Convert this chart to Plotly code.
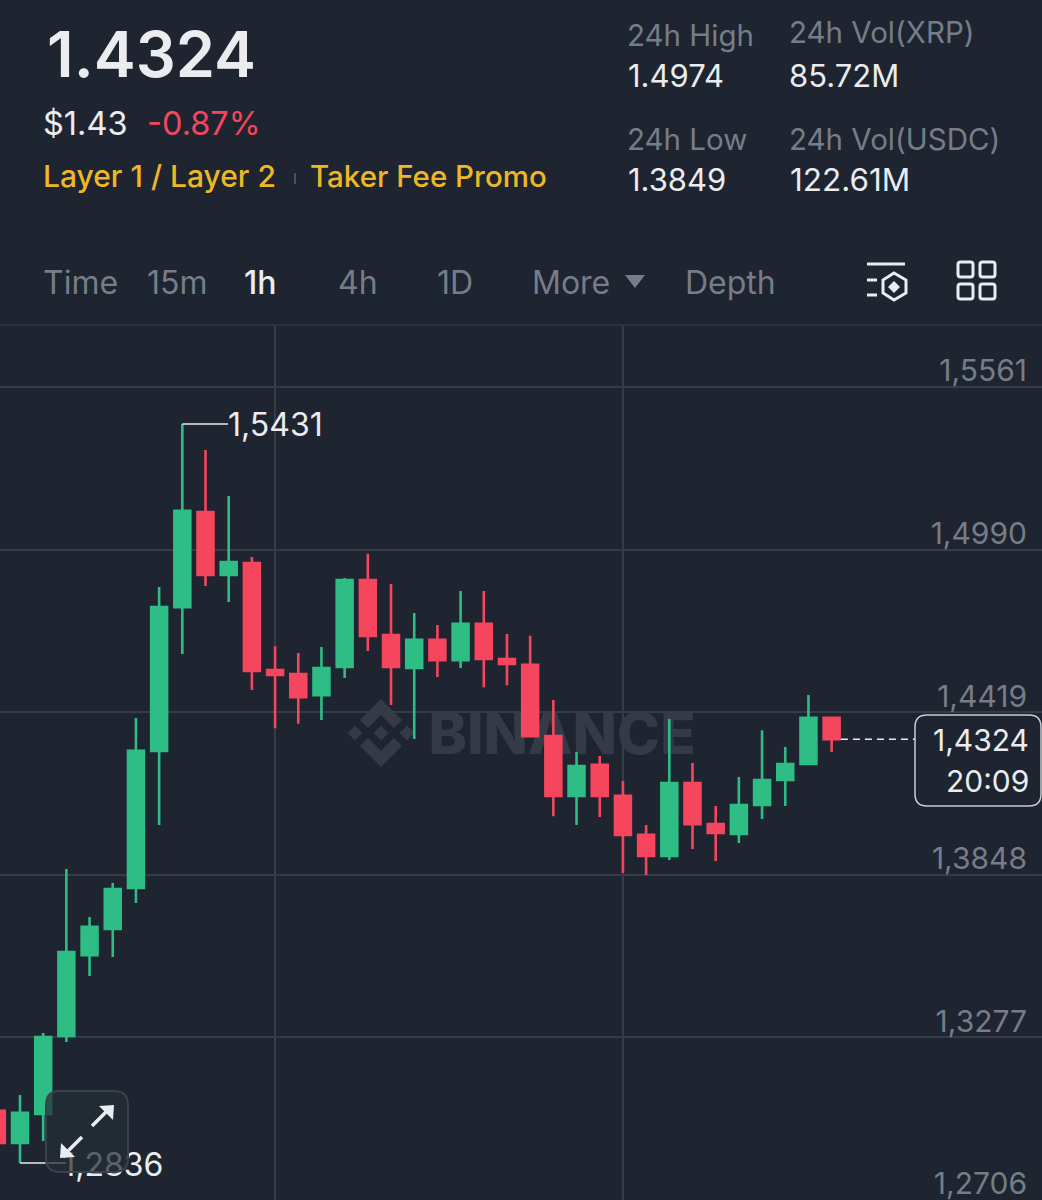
import plotly.graph_objects as go

W = 1042
H = 1200

BG = "#1e2530"
GREEN = "#2ebd85"
RED = "#f6465d"
WHITE = "#eaecef"
GRAY = "#767d88"
YELLOW = "#eeb726"
GRID = "#353c46"
WATERMARK = "#343b46"

candle_idx = list(range(37))
opens = [1.3019, 1.2906, 1.3008, 1.3282, 1.3566, 1.3658, 1.3802, 1.4283, 1.4788, 1.5122,
         1.4901, 1.4943, 1.4567, 1.4553, 1.4479, 1.4578, 1.4883, 1.4690, 1.4574, 1.4673,
         1.4602, 1.4729, 1.4606, 1.4585, 1.4335, 1.4125, 1.4234, 1.4125, 1.3988, 1.3914,
         1.4170, 1.4026, 1.3991, 1.4093, 1.4181, 1.4237, 1.4399]
highs = [1.3022, 1.3075, 1.3292, 1.3868, 1.3700, 1.3819, 1.4399, 1.4859, 1.5431, 1.5340,
         1.5178, 1.4964, 1.4651, 1.4627, 1.4648, 1.4890, 1.4975, 1.4869, 1.4767, 1.4725,
         1.4845, 1.4845, 1.4694, 1.4687, 1.4462, 1.4279, 1.4265, 1.4177, 1.4023, 1.4395,
         1.4241, 1.4090, 1.4191, 1.4356, 1.4297, 1.4479, 1.4399]
lows = [1.2906, 1.2836, 1.2913, 1.3261, 1.3493, 1.3559, 1.3749, 1.4023, 1.4623, 1.4862,
        1.4806, 1.4497, 1.4363, 1.4378, 1.4392, 1.4539, 1.4634, 1.4444, 1.4325, 1.4543,
        1.4574, 1.4507, 1.4514, 1.4335, 1.4054, 1.4023, 1.4051, 1.3854, 1.3847, 1.3900,
        1.3939, 1.3896, 1.3960, 1.4044, 1.4090, 1.4234, 1.4279]
closes = [1.2906, 1.3012, 1.3278, 1.3577, 1.3665, 1.3798, 1.4283, 1.4788, 1.5126, 1.4901,
          1.4946, 1.4564, 1.4550, 1.4472, 1.4574, 1.4883, 1.4687, 1.4578, 1.4673, 1.4602,
          1.4729, 1.4606, 1.4588, 1.4335, 1.4125, 1.4230, 1.4125, 1.3988, 1.3914, 1.4170,
          1.4026, 1.3995, 1.4093, 1.4181, 1.4237, 1.4399, 1.4324]
price_ticks = [1.5561, 1.4990, 1.4419, 1.3848, 1.3277, 1.2706]
time_grid = [12, 27]

# pixel <-> axis calibration
X_PER_CANDLE = 23.19
X_FIRST = -3.2
PRICE_AT_ZERO = 1.6920
PRICE_PER_PX = 0.00035117
PLOT_TOP = 325


def paper_x(px):
    return px / W


def paper_y(py):
    return 1 - py / H


def idx_at(px):
    return (px - X_FIRST) / X_PER_CANDLE


def price_at(py):
    return PRICE_AT_ZERO - py * PRICE_PER_PX


def poly(points):
    parts = [f"{paper_x(x):.5f},{paper_y(y):.5f}" for x, y in points]
    return "M" + " L".join(parts) + " Z"


def path_shape(path, fill="rgba(0,0,0,0)", color="rgba(0,0,0,0)", width=0, layer="above"):
    return dict(type="path", xref="paper", yref="paper", path=path, fillcolor=fill,
                line=dict(color=color, width=width), layer=layer)


def line_shape(x0, y0, x1, y1, color, width, layer="above"):
    return dict(type="line", xref="paper", yref="paper", x0=paper_x(x0), y0=paper_y(y0),
                x1=paper_x(x1), y1=paper_y(y1), line=dict(color=color, width=width), layer=layer)


def rounded(x0, y0, x1, y1, r):
    return (f"M{paper_x(x0 + r):.5f},{paper_y(y0):.5f} L{paper_x(x1 - r):.5f},{paper_y(y0):.5f} "
            f"Q{paper_x(x1):.5f},{paper_y(y0):.5f} {paper_x(x1):.5f},{paper_y(y0 + r):.5f} "
            f"L{paper_x(x1):.5f},{paper_y(y1 - r):.5f} "
            f"Q{paper_x(x1):.5f},{paper_y(y1):.5f} {paper_x(x1 - r):.5f},{paper_y(y1):.5f} "
            f"L{paper_x(x0 + r):.5f},{paper_y(y1):.5f} "
            f"Q{paper_x(x0):.5f},{paper_y(y1):.5f} {paper_x(x0):.5f},{paper_y(y1 - r):.5f} "
            f"L{paper_x(x0):.5f},{paper_y(y0 + r):.5f} "
            f"Q{paper_x(x0):.5f},{paper_y(y0):.5f} {paper_x(x0 + r):.5f},{paper_y(y0):.5f} Z")


def label(text, px, py, size, color=WHITE, anchor="left", weight=400):
    # annotations carry a few px of inner padding
    shift = -3 if anchor == "left" else 3
    return dict(text=text, xref="paper", yref="paper", x=paper_x(px + shift), y=paper_y(py),
                xanchor=anchor, yanchor="middle", showarrow=False,
                font=dict(size=size, color=color, family="Inter", weight=weight))


fig = go.Figure()

# bar layer sits under the candles, so the watermark goes here
fig.add_trace(go.Bar(
    x=[idx_at(562)], y=[price_at(698) - price_at(768)], base=[price_at(768)], width=[12],
    text=["BINANCE"], textposition="inside", insidetextanchor="middle", textangle=0,
    constraintext="none", marker=dict(color="rgba(0,0,0,0)", line=dict(width=0)),
    textfont=dict(size=58, color=WATERMARK, family="Inter", weight=800),
    hoverinfo="skip", showlegend=False,
))

fig.add_trace(go.Candlestick(
    x=candle_idx, open=opens, high=highs, low=lows, close=closes,
    increasing=dict(line=dict(color=GREEN, width=2.6), fillcolor=GREEN),
    decreasing=dict(line=dict(color=RED, width=2.6), fillcolor=RED),
    showlegend=False,
))

# high / low markers
high_i = highs.index(max(highs))
low_i = lows.index(min(lows))
fig.add_trace(go.Scatter(
    x=[high_i, high_i + 1.97], y=[highs[high_i], highs[high_i]], mode="lines",
    line=dict(color=WHITE, width=1.5), hoverinfo="skip", showlegend=False,
))
fig.add_trace(go.Scatter(
    x=[low_i, low_i + 1.98], y=[lows[low_i], lows[low_i]], mode="lines",
    line=dict(color=WHITE, width=1.5), hoverinfo="skip", showlegend=False,
))
fig.add_trace(go.Scatter(
    x=[high_i + 1.97, low_i + 1.82],
    y=[highs[high_i] - 4 * PRICE_PER_PX, lows[low_i] - 5 * PRICE_PER_PX],
    mode="text", text=["1,5431", "1,2836"], textposition="middle right",
    textfont=dict(size=32, color=WHITE, family="Inter"),
    hoverinfo="skip", showlegend=False,
))
# dashed last price line
fig.add_trace(go.Scatter(
    x=[candle_idx[-1] + 0.4, idx_at(915)], y=[closes[-1], closes[-1]], mode="lines",
    line=dict(color=WHITE, width=1.5, dash="7px,5px"), hoverinfo="skip", showlegend=False,
))

shapes = [line_shape(0, PLOT_TOP, W, PLOT_TOP, "#2b323c", 2)]

# watermark logo
cx, cy = 381, 733
for sign in (1, -1):
    shapes.append(path_shape(poly([(cx, cy - 34 * sign), (cx + 21, cy - 13 * sign), (cx + 13, cy - 5 * sign),
                                   (cx, cy - 18 * sign), (cx - 13, cy - 5 * sign), (cx - 21, cy - 13 * sign)]),
                             fill=WATERMARK, layer="below"))
for dx in (-26, 0, 26):
    shapes.append(path_shape(poly([(cx + dx, cy - 7.5), (cx + dx + 7.5, cy), (cx + dx, cy + 7.5), (cx + dx - 7.5, cy)]),
                             fill=WATERMARK, layer="below"))

# last price box
shapes.append(path_shape(rounded(915, 715, 1041, 806, 12), fill=BG, color="#c9ccd1", width=1.5))

# expand button
shapes.append(path_shape(rounded(46, 1091, 128, 1172, 14), fill="rgba(36,44,54,0.72)", color="#3a414b", width=2))
shapes.append(line_shape(92, 1126, 111, 1107, WHITE, 3.5))
shapes.append(path_shape(poly([(99, 1106), (114, 1105), (113, 1120)]), fill=WHITE))
shapes.append(line_shape(82, 1137, 63, 1156, WHITE, 3.5))
shapes.append(path_shape(poly([(61, 1143), (60, 1158), (75, 1157)]), fill=WHITE))

# "More" caret
shapes.append(path_shape(poly([(625, 275), (645, 275), (635, 288)]), fill=GRAY))

# list + hexagon icon
shapes.append(line_shape(867, 264, 905, 264, WHITE, 3))
shapes.append(line_shape(867, 280, 877, 280, WHITE, 3))
shapes.append(line_shape(867, 295, 877, 295, WHITE, 3))
shapes.append(path_shape(poly([(894, 273), (906, 280), (906, 293), (894, 300), (883, 293), (883, 280)]),
                         color=WHITE, width=3))
shapes.append(path_shape(poly([(894, 281), (900, 287), (894, 293), (888, 287)]), fill=WHITE))

# grid icon
for x0 in (958, 980):
    for y0 in (262, 284):
        shapes.append(path_shape(rounded(x0, y0, x0 + 15, y0 + 15, 2.5), color=WHITE, width=3))

annotations = [
    label("1.4324", 48, 54, 63, WHITE, weight=600),
    label("$1.43", 44, 124, 32.5),
    label("-0.87%", 148, 124, 32.5, RED),
    label("Layer 1 / Layer 2", 44, 176, 30, YELLOW, weight=500),
    label("Taker Fee Promo", 311, 176, 29.5, YELLOW, weight=500),
    label("24h High", 628, 35, 29.5, GRAY),
    label("1.4974", 629, 75, 31),
    label("24h Vol(XRP)", 790, 32, 29.5, GRAY),
    label("85.72M", 790, 75, 31),
    label("24h Low", 628, 139, 29.5, GRAY),
    label("1.3849", 629, 179, 31),
    label("24h Vol(USDC)", 790, 139, 29.5, GRAY),
    label("122.61M", 791, 179, 31.5),
    label("Time", 44, 282, 32, GRAY),
    label("15m", 148, 282, 32, GRAY),
    label("1h", 245, 282, 32, WHITE, weight=500),
    label("4h", 339, 282, 32, GRAY),
    label("1D", 438, 282, 32, GRAY),
    label("More", 533, 282, 32, GRAY),
    label("Depth", 686, 282, 32, GRAY),
    label("1,4324", 1028, 740, 30, anchor="right"),
    label("20:09", 1028, 781, 30, anchor="right"),
]
shapes.append(line_shape(295, 173, 295, 184, "#4a505a", 2))

fig.update_layout(
    width=W,
    height=H,
    margin=dict(l=0, r=0, t=0, b=0),
    paper_bgcolor=BG,
    plot_bgcolor=BG,
    separators=", ",
    barmode="overlay",
    boxgap=0.02,
    showlegend=False,
    shapes=shapes,
    annotations=annotations,
    font=dict(family="Inter", color=WHITE),
    xaxis=dict(
        range=[idx_at(0), idx_at(W)],
        rangeslider=dict(visible=False),
        tickmode="array",
        tickvals=time_grid,
        showticklabels=False,
        ticks="",
        showgrid=True,
        gridcolor=GRID,
        gridwidth=1.5,
        zeroline=False,
        showline=False,
    ),
    yaxis=dict(
        domain=[0, paper_y(PLOT_TOP)],
        range=[price_at(H), price_at(PLOT_TOP)],
        side="right",
        tickmode="array",
        tickvals=price_ticks,
        tickformat=".4f",
        ticks="",
        ticklabelposition="inside",
        ticklabelstandoff=12,
        ticklabelshift=-16,
        ticklabeloverflow="allow",
        tickfont=dict(size=30, color=GRAY, family="Inter"),
        showgrid=True,
        gridcolor=GRID,
        gridwidth=1.5,
        zeroline=False,
        showline=False,
    ),
)

fig.write_html("out.html", config=dict(displayModeBar=False),
               post_script="document.body.style.margin='0';document.body.style.background='%s';" % BG)
